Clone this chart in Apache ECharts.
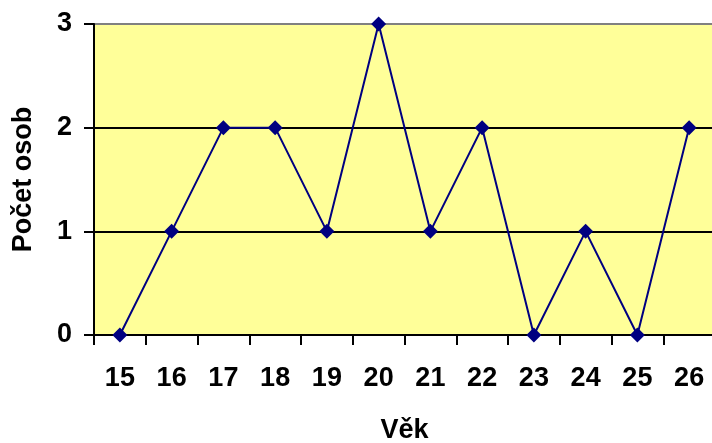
<!DOCTYPE html>
<html>
<head>
<meta charset="utf-8">
<script src="https://cdn.jsdelivr.net/npm/echarts@6/dist/echarts.min.js"></script>
<style>
html,body{margin:0;padding:0;background:#fff;}
#chart{width:712px;height:443px;}
</style>
</head>
<body>
<div id="chart"></div>
<script>
const categories = ['15','16','17','18','19','20','21','22','23','24','25','26'];
const counts = [0,1,2,2,1,3,1,2,0,1,0,2];
const yTitle = 'Počet osob';
const xTitle = 'Věk';

const font = '"Liberation Sans", Arial, sans-serif';
const chart = echarts.init(document.getElementById('chart'), null, {renderer:'canvas'});
chart.setOption({
  animation:false,
  backgroundColor:'#ffffff',
  grid:{left:94, top:24, width:621, height:311, show:true, backgroundColor:'#FFFF99', borderWidth:0,
        containLabel:false, outerBoundsMode:'none'},
  xAxis:{
    type:'category', data:categories, boundaryGap:true,
    name:xTitle, nameLocation:'middle', nameGap:82,
    nameTextStyle:{fontFamily:font, fontWeight:'bold', fontSize:27, color:'#000'},
    axisLine:{lineStyle:{color:'#000', width:2}},
    axisTick:{show:true, alignWithLabel:false, length:10, lineStyle:{color:'#000', width:2}},
    axisLabel:{fontFamily:font, fontWeight:'bold', fontSize:27, color:'#000', margin:30, interval:0},
    splitLine:{show:false}
  },
  yAxis:{
    type:'value', min:0, max:3, interval:1,
    name:yTitle, nameLocation:'middle', nameGap:57, nameRotate:90,
    nameTextStyle:{fontFamily:font, fontWeight:'bold', fontSize:27, color:'#000'},
    axisLine:{show:true, lineStyle:{color:'#000', width:2}},
    axisTick:{show:true, length:10, lineStyle:{color:'#000', width:2}},
    axisLabel:{fontFamily:font, fontWeight:'bold', fontSize:27, color:'#000', margin:22},
    splitLine:{show:true, lineStyle:{color:['#000','#000','#000','#808080'], width:2}}
  },
  series:[{
    type:'line', data:counts,
    symbol:'diamond', symbolSize:15,
    lineStyle:{color:'#000080', width:2},
    itemStyle:{color:'#000080'},
    clip:false
  }]
});
</script>
</body>
</html>
